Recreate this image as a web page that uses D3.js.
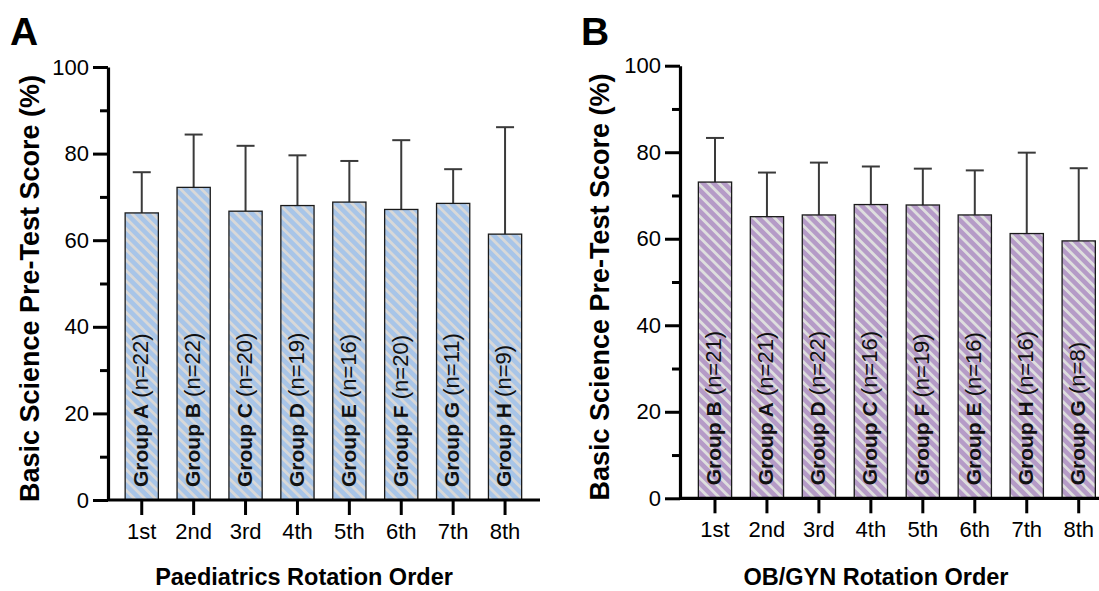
<!DOCTYPE html>
<script src="https://cdn.jsdelivr.net/npm/d3@7"></script>
<html>
    <body style="margin:0;background:#fff">
        <div id="chart-div"></div>
        <script>
            // data
            const orders = ["1st", "2nd", "3rd", "4th", "5th", "6th", "7th", "8th"];
            const yTicks = [0, 20, 40, 60, 80, 100];

            const groupsA = ["A", "B", "C", "D", "E", "F", "G", "H"];
            const nA = [22, 22, 20, 19, 16, 20, 11, 9];
            const meanA = [66.3, 72.2, 66.7, 68.0, 68.8, 67.1, 68.5, 61.4];
            const sdA = [9.4, 12.2, 15.1, 11.6, 9.5, 16.0, 7.9, 24.7];

            const groupsB = ["B", "A", "D", "C", "F", "E", "H", "G"];
            const nB = [21, 21, 22, 16, 19, 16, 16, 8];
            const meanB = [73.1, 65.1, 65.5, 67.9, 67.8, 65.5, 61.2, 59.5];
            const sdB = [10.2, 10.2, 12.1, 8.8, 8.4, 10.3, 18.7, 16.8];

            const font = "'Liberation Sans', Arial, sans-serif";

            const svg = d3.select("#chart-div")
                .append("svg")
                .attr("width", 1099)
                .attr("height", 591)
                .style("font-family", font);

            const defs = svg.append("defs");

            function stripes(id, base, stripe) {
                const p = defs.append("pattern")
                    .attr("id", id)
                    .attr("patternUnits", "userSpaceOnUse")
                    .attr("width", 7.4)
                    .attr("height", 7.4)
                    .attr("patternTransform", "rotate(-45)");
                p.append("rect").attr("width", 7.4).attr("height", 7.4).attr("fill", base);
                p.append("rect").attr("width", 2.8).attr("height", 7.4).attr("fill", stripe);
            }
            stripes("stripeA", "#a8c5e8", "#d8d8d8");
            stripes("stripeB", "#b59bc7", "#dedede");

            function panel(opt) {
                const g = svg.append("g");

                const x = d3.scaleBand()
                    .domain(orders)
                    .range([opt.x0, opt.x1])
                    .paddingInner(0.36)
                    .paddingOuter(0.18);

                const y = d3.scaleLinear()
                    .domain([0, 100])
                    .range([opt.yBottom, opt.yTop]);

                const rows = orders.map((o, i) => ({
                    order: o, group: opt.groups[i], n: opt.n[i],
                    mean: opt.mean[i], sd: opt.sd[i]
                }));

                // error bars (drawn first so bars cover the lower part)
                const err = g.append("g").attr("stroke", "#3a3a3a").attr("stroke-width", 2);
                err.selectAll(".stem")
                    .data(rows)
                    .enter()
                    .append("line")
                    .attr("x1", d => x(d.order) + x.bandwidth() / 2)
                    .attr("x2", d => x(d.order) + x.bandwidth() / 2)
                    .attr("y1", d => y(d.mean))
                    .attr("y2", d => y(d.mean + d.sd));
                err.selectAll(".cap")
                    .data(rows)
                    .enter()
                    .append("line")
                    .attr("x1", d => x(d.order) + x.bandwidth() / 2 - 9)
                    .attr("x2", d => x(d.order) + x.bandwidth() / 2 + 9)
                    .attr("y1", d => y(d.mean + d.sd))
                    .attr("y2", d => y(d.mean + d.sd));

                // bars
                g.selectAll(".bar")
                    .data(rows)
                    .enter()
                    .append("rect")
                    .attr("x", d => x(d.order))
                    .attr("y", d => y(d.mean))
                    .attr("width", x.bandwidth())
                    .attr("height", d => y(0) - y(d.mean))
                    .attr("fill", "url(#" + opt.pattern + ")")
                    .attr("stroke", "#1a1a1a")
                    .attr("stroke-width", 1.3);

                // group labels inside bars
                const lab = g.selectAll(".lab")
                    .data(rows)
                    .enter()
                    .append("text")
                    .attr("transform", d => "translate(" + (x(d.order) + x.bandwidth() / 2) + "," + (y(0) - 13) + ") rotate(-90)")
                    .attr("dy", "0.3em")
                    .style("font-size", "21px")
                    .attr("fill", "#111");
                lab.append("tspan").attr("font-weight", "bold").text(d => "Group " + d.group);
                lab.append("tspan").style("font-size", "22px").text(d => " (n=" + d.n + ")");

                // y axis
                const yAxis = g.append("g")
                    .attr("transform", "translate(" + opt.axisX + ",0)")
                    .call(d3.axisLeft(y).tickValues(yTicks).tickSize(15).tickSizeOuter(0).tickPadding(4));
                yAxis.selectAll(".tick line").attr("stroke-width", 3);
                yAxis.select(".domain").attr("stroke-width", 3.2);
                yAxis.selectAll("text").attr("fill", "#000")
                    .style("font-family", font).style("font-size", "22px");
                // minor ticks
                g.append("g")
                    .attr("transform", "translate(" + opt.axisX + ",0)")
                    .call(d3.axisLeft(y).tickValues([10, 30, 50, 70, 90]).tickSize(8).tickFormat(""))
                    .call(a => a.select(".domain").remove())
                    .selectAll("line").attr("stroke-width", 3);

                // x axis
                const xAxis = g.append("g")
                    .attr("transform", "translate(0," + opt.yBottom + ")")
                    .call(d3.axisBottom(x).tickSize(15).tickSizeOuter(0).tickPadding(8));
                xAxis.select(".domain").attr("d", "M" + opt.axisX + ",0H" + opt.axisEnd).attr("stroke-width", 3.2);
                xAxis.selectAll(".tick line").attr("stroke-width", 3);
                xAxis.selectAll("text").attr("fill", "#000")
                    .style("font-family", font).style("font-size", "22px");

                // axis titles
                g.append("text")
                    .attr("transform", "translate(" + opt.yLabelX + "," + ((opt.yTop + opt.yBottom) / 2 + 5) + ") rotate(-90)")
                    .attr("text-anchor", "middle")
                    .attr("dy", "0.35em")
                    .style("font-size", "27px")
                    .attr("font-weight", "bold")
                    .text("Basic Science Pre-Test Score (%)");

                g.append("text")
                    .attr("x", opt.xLabelX)
                    .attr("y", 585)
                    .attr("text-anchor", "middle")
                    .style("font-size", "23.5px")
                    .attr("font-weight", "bold")
                    .text(opt.xTitle);

                // panel letter
                g.append("text")
                    .attr("x", opt.letterX)
                    .attr("y", 45)
                    .style("font-size", "39px")
                    .attr("font-weight", "bold")
                    .text(opt.letter);
            }

            panel({
                groups: groupsA, n: nA, mean: meanA, sd: sdA,
                pattern: "stripeA",
                x0: 115.8, x1: 531, axisX: 108, axisEnd: 540,
                yTop: 67, yBottom: 500,
                yLabelX: 30, xLabelX: 304,
                xTitle: "Paediatrics Rotation Order",
                letter: "A", letterX: 10
            });

            panel({
                groups: groupsB, n: nB, mean: meanB, sd: sdB,
                pattern: "stripeB",
                x0: 689, x1: 1104.7, axisX: 680, axisEnd: 1099,
                yTop: 65.7, yBottom: 498.3,
                yLabelX: 600, xLabelX: 876,
                xTitle: "OB/GYN Rotation Order",
                letter: "B", letterX: 581
            });
        </script>
    </body>
</html>
